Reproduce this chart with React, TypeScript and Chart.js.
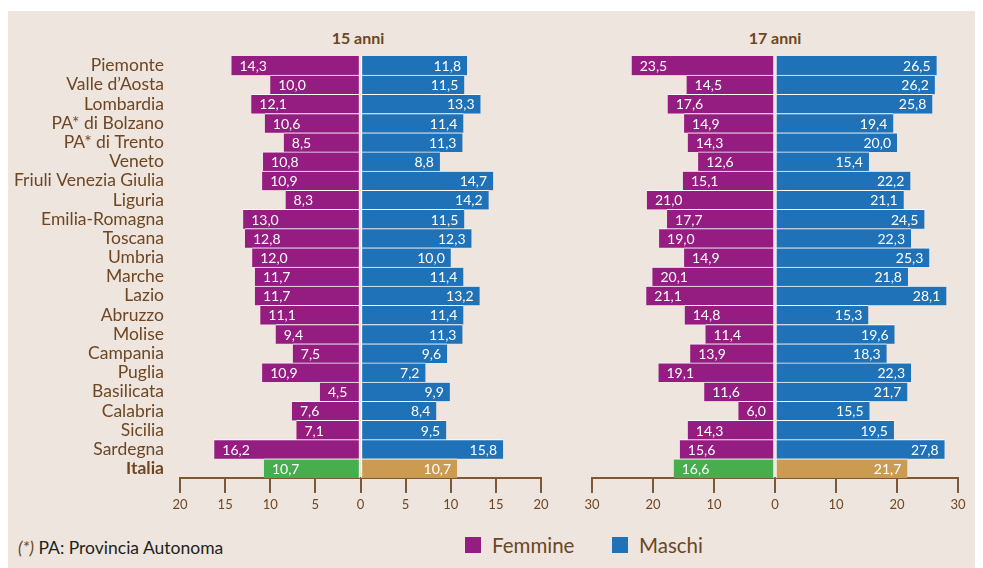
import React, { useEffect, useRef } from "react";
import { Chart, registerables } from "chart.js";

Chart.register(...registerables);

const categories = [
  "Piemonte", "Valle d’Aosta", "Lombardia", "PA* di Bolzano", "PA* di Trento", "Veneto",
  "Friuli Venezia Giulia", "Liguria", "Emilia-Romagna", "Toscana", "Umbria", "Marche",
  "Lazio", "Abruzzo", "Molise", "Campania", "Puglia", "Basilicata", "Calabria", "Sicilia",
  "Sardegna", "Italia",
];

const femmine15 = [14.3, 10.0, 12.1, 10.6, 8.5, 10.8, 10.9, 8.3, 13.0, 12.8, 12.0, 11.7, 11.7, 11.1, 9.4, 7.5, 10.9, 4.5, 7.6, 7.1, 16.2, 10.7];
const maschi15 = [11.8, 11.5, 13.3, 11.4, 11.3, 8.8, 14.7, 14.2, 11.5, 12.3, 10.0, 11.4, 13.2, 11.4, 11.3, 9.6, 7.2, 9.9, 8.4, 9.5, 15.8, 10.7];
const femmine17 = [23.5, 14.5, 17.6, 14.9, 14.3, 12.6, 15.1, 21.0, 17.7, 19.0, 14.9, 20.1, 21.1, 14.8, 11.4, 13.9, 19.1, 11.6, 6.0, 14.3, 15.6, 16.6];
const maschi17 = [26.5, 26.2, 25.8, 19.4, 20.0, 15.4, 22.2, 21.1, 24.5, 22.3, 25.3, 21.8, 28.1, 15.3, 19.6, 18.3, 22.3, 21.7, 15.5, 19.5, 27.8, 21.7];

const ticks15 = [-20, -15, -10, -5, 0, 5, 10, 15, 20];
const ticks17 = [-30, -20, -10, 0, 10, 20, 30];

const PURPLE = "#951C80";
const BLUE = "#1F71B8";
const GREEN = "#47AE4E";
const GOLD = "#CB9B52";
const BG = "#EDE5DE";
const BROWN = "#6E4622";
const AXIS = "#7B5836";
const FONT = "Lato, 'Open Sans', sans-serif";

const fmt = (v: number) => v.toFixed(1).replace(".", ",");

const valueLabels = {
  id: "valueLabels",
  afterDatasetsDraw(chart: any) {
    const ctx = chart.ctx;
    ctx.save();
    ctx.font = `14px ${FONT}`;
    ctx.fillStyle = "#FFFFFF";
    ctx.textBaseline = "middle";
    chart.data.datasets.forEach((ds: any, di: number) => {
      const meta = chart.getDatasetMeta(di);
      meta.data.forEach((el: any, i: number) => {
        const raw = ds.data[i];
        const txt = fmt(Math.abs(raw));
        if (raw < 0) {
          ctx.textAlign = "left";
          ctx.fillText(txt, el.x + 8, el.y + 1);
        } else {
          ctx.textAlign = "right";
          ctx.fillText(txt, el.x - 6, el.y + 1);
        }
      });
    });
    ctx.restore();
  },
};

function makeConfig(
  fem: number[],
  mas: number[],
  limit: number,
  tickVals: number[],
  showLabels: boolean,
  padding: any
): any {
  const last = categories.length - 1;
  return {
    type: "bar",
    data: {
      labels: categories,
      datasets: [
        {
          label: "Femmine",
          data: fem.map((v) => -v),
          backgroundColor: (c: any) => (c.dataIndex === last ? GREEN : PURPLE),
          borderColor: "#FFFFFF",
          borderWidth: (c: any) => ({ top: c.dataIndex === 0 ? 0 : 1, right: 1, bottom: 0, left: 0 }),
          borderSkipped: false,
          barPercentage: 1,
          categoryPercentage: 1,
        },
        {
          label: "Maschi",
          data: mas,
          backgroundColor: (c: any) => (c.dataIndex === last ? GOLD : BLUE),
          borderColor: "#FFFFFF",
          borderWidth: (c: any) => ({ top: c.dataIndex === 0 ? 0 : 1, right: 0, bottom: 0, left: 1 }),
          borderSkipped: false,
          barPercentage: 1,
          categoryPercentage: 1,
        },
      ],
    },
    options: {
      indexAxis: "y",
      responsive: false,
      animation: false,
      layout: { padding },
      plugins: {
        legend: { display: false },
        tooltip: { enabled: false },
        title: { display: false },
      },
      scales: {
        x: {
          stacked: true,
          min: -limit,
          max: limit,
          afterBuildTicks: (scale: any) => {
            scale.ticks = tickVals.map((v) => ({ value: v }));
          },
          afterFit: (scale: any) => {
            scale.height = 40;
          },
          ticks: {
            color: BROWN,
            font: { family: FONT, size: 13 },
            padding: 4,
            maxRotation: 0,
            autoSkip: false,
            callback: (v: any) => String(Math.abs(Number(v))),
          },
          grid: {
            display: true,
            drawOnChartArea: false,
            drawTicks: true,
            tickLength: 15,
            color: AXIS,
            lineWidth: 2,
          },
          border: { display: true, color: AXIS, width: 2 },
        },
        y: {
          stacked: true,
          display: showLabels,
          afterFit: (scale: any) => {
            if (showLabels) scale.width = 172;
            scale.paddingTop = 0;
            scale.paddingBottom = 0;
          },
          ticks: {
            color: BROWN,
            padding: 8,
            autoSkip: false,
            font: (c: any) => ({
              family: FONT,
              size: 17.5,
              weight: c.index === last ? "bold" : "normal",
            }),
          },
          grid: { display: false },
          border: { display: false },
        },
      },
    },
    plugins: [valueLabels],
  };
}

function BarPanel(props: { config: any; width: number; height: number; left: number; top: number }) {
  const ref = useRef<HTMLCanvasElement | null>(null);
  useEffect(() => {
    if (!ref.current) return;
    const chart = new Chart(ref.current, props.config);
    return () => chart.destroy();
  }, []);
  return (
    <canvas
      ref={ref}
      width={props.width}
      height={props.height}
      style={{ position: "absolute", left: props.left, top: props.top, width: props.width, height: props.height }}
    />
  );
}

export default function App() {
  const cfg15 = makeConfig(femmine15, maschi15, 20, ticks15, true, { top: 11, right: 19, left: 0, bottom: 0 });
  const cfg17 = makeConfig(femmine17, maschi17, 30, ticks17, false, { top: 11, right: 25, left: 17, bottom: 0 });
  const titleStyle: React.CSSProperties = {
    position: "absolute",
    top: 17,
    width: 120,
    textAlign: "center",
    fontFamily: FONT,
    fontWeight: "bold",
    fontSize: 16,
    color: BROWN,
    lineHeight: "20px",
  };
  const legendText: React.CSSProperties = {
    position: "absolute",
    top: 522,
    fontFamily: FONT,
    fontSize: 20.5,
    color: BROWN,
    lineHeight: "24px",
  };
  return (
    <div
      style={{
        position: "relative",
        marginTop: 3,
        width: 975,
        height: 557,
        background: BG,
        overflow: "hidden",
      }}
    >
      <div style={{ ...titleStyle, left: 290 }}>15 anni</div>
      <div style={{ ...titleStyle, left: 707 }}>17 anni</div>
      <BarPanel config={cfg15} width={552} height={473} left={0} top={34} />
      <BarPanel config={cfg17} width={408} height={473} left={567} top={34} />
      <div style={{ position: "absolute", left: 457, top: 526, width: 16, height: 16, background: PURPLE }} />
      <div style={{ ...legendText, left: 484 }}>Femmine</div>
      <div style={{ position: "absolute", left: 604, top: 526, width: 16, height: 16, background: BLUE }} />
      <div style={{ ...legendText, left: 631 }}>Maschi</div>
      <div
        style={{
          position: "absolute",
          left: 10,
          top: 526,
          fontFamily: FONT,
          fontSize: 17.5,
          color: "#231F20",
          lineHeight: "22px",
        }}
      >
        <span style={{ fontStyle: "italic", color: BROWN }}>(*)</span> PA: Provincia Autonoma
      </div>
    </div>
  );
}
